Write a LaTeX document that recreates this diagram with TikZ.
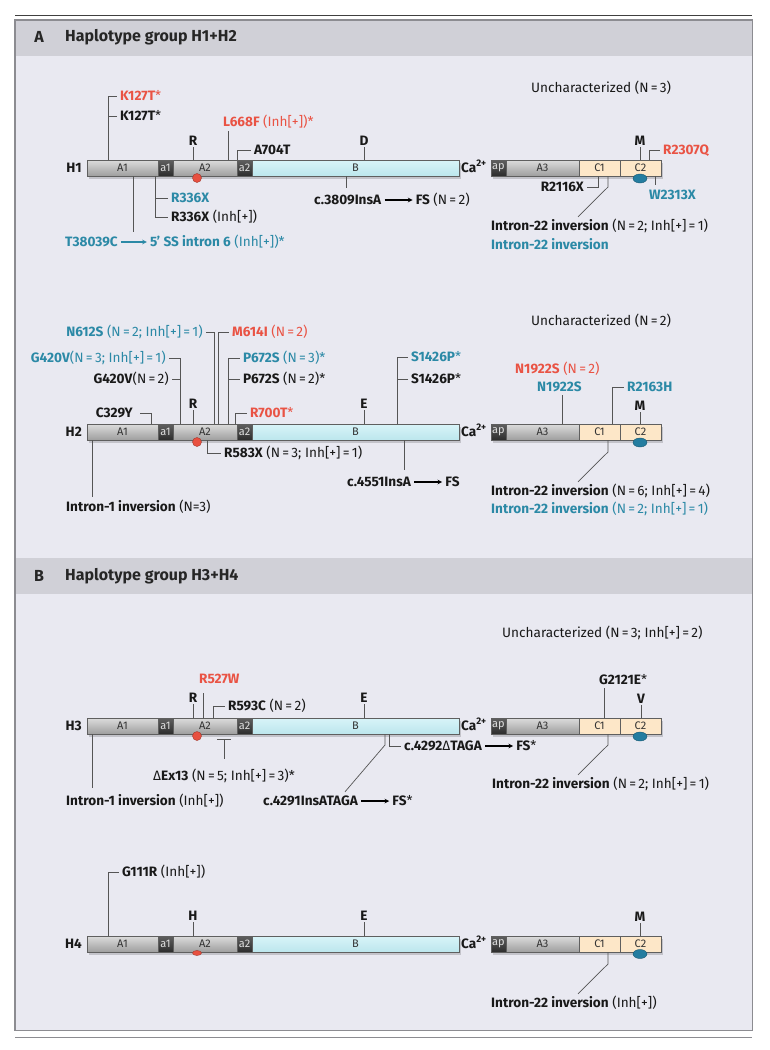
\documentclass[tikz,border=0pt]{standalone}
\usepackage{fontspec}
\setmainfont{Fira Sans}
\usetikzlibrary{positioning, shapes.geometric, arrows, shadows}

\definecolor{mutred}{RGB}{233,83,68}
\definecolor{mutblue}{RGB}{43,137,166}
\definecolor{panelbg}{RGB}{233,233,241}
\definecolor{hdrbg}{RGB}{208,208,215}
\definecolor{framegray}{RGB}{140,140,145}
\definecolor{leadgray}{RGB}{85,85,85}
\definecolor{domline}{RGB}{95,95,95}
\definecolor{graytop}{RGB}{220,220,220}
\definecolor{graybot}{RGB}{158,158,158}
\definecolor{darktop}{RGB}{95,95,95}
\definecolor{darkbot}{RGB}{45,45,45}
\definecolor{btop}{RGB}{216,244,248}
\definecolor{bbot}{RGB}{188,230,237}
\definecolor{cpeach}{RGB}{253,231,200}
\definecolor{dotred}{RGB}{232,80,64}
\definecolor{dotblue}{RGB}{36,125,160}

\newcommand{\Dsym}{{\mdseries Δ}}

\tikzstyle{dom} = [rectangle, draw=domline, line width=0.6pt, minimum height=16pt, inner sep=0pt, outer sep=0pt, font=\fontsize{11}{11}\selectfont, drop shadow={shadow xshift=1.5pt, shadow yshift=-3pt, opacity=0.16, fill=black}]
\tikzstyle{domA} = [dom, top color=graytop, bottom color=graybot, text=black!80]
\tikzstyle{doms} = [dom, top color=darktop, bottom color=darkbot, text=black!12, minimum width=15pt]
\tikzstyle{domB} = [dom, top color=btop, bottom color=bbot, text=black!80, minimum width=207pt]
\tikzstyle{domC} = [dom, fill=cpeach, text=black!80, minimum width=41pt]
\tikzstyle{dotr} = [circle, draw=dotred!70!black, line width=0.4pt, fill=dotred, minimum size=9pt, inner sep=0pt]
\tikzstyle{dotrflat} = [ellipse, draw=dotred!70!black, line width=0.4pt, fill=dotred, minimum width=9pt, minimum height=5pt, inner sep=0pt]
\tikzstyle{dotb} = [ellipse, draw=dotblue!70!black, line width=0.4pt, fill=dotblue, minimum width=14pt, minimum height=9pt, inner sep=0pt]
\tikzstyle{lbl} = [inner xsep=3pt, inner ysep=1pt, text height=9pt, text depth=1pt, font=\fontsize{13.6}{15}\selectfont, text=black!90]
\tikzstyle{redlbl} = [lbl, text=mutred]
\tikzstyle{bluelbl} = [lbl, text=mutblue]
\tikzstyle{site} = [lbl, font=\fontsize{13.6}{15}\selectfont\bfseries]
\tikzstyle{calbl} = [lbl, inner xsep=2pt, anchor=west]
\tikzstyle{lead} = [draw=leadgray, line width=0.7pt]
\tikzstyle{arrow} = [line width=1.1pt,->,>=stealth]
\tikzstyle{bluearrow} = [arrow, draw=mutblue]
\tikzstyle{header} = [rectangle, fill=hdrbg, minimum width=737pt, minimum height=36pt, inner sep=0pt]
\tikzstyle{hdrfont} = [inner sep=0pt, font=\fontsize{16}{18}\selectfont\bfseries, text=black!85]

\begin{document}
\begin{tikzpicture}[x=1pt, y=-1pt]

   \useasboundingbox (0,0) rectangle (769,1050);

   \node (panel) [rectangle, fill=panelbg, minimum width=737pt, minimum height=1010pt, inner sep=0pt, anchor=north west] at (15,20) {};
   \node (hdrA) [header, anchor=north west] at (15,20) {};
   \node (hdrAl) [hdrfont] at (39,37) {A};
   \node (hdrAt) [hdrfont, anchor=west] at (65,37) {Haplotype group H1+H2};
   \node (hdrB) [header, anchor=north west] at (15,558) {};
   \node (hdrBl) [hdrfont] at (39,576) {B};
   \node (hdrBt) [hdrfont, anchor=west] at (65,576) {Haplotype group H3+H4};
   \draw [draw=framegray, line width=1.6pt] (panel.north west) rectangle (panel.south east);
   \draw [draw=black!75, line width=0.8pt] ([yshift=5pt]panel.north west) -- ([yshift=5pt]panel.north east);
   \draw [draw=framegray, line width=1.8pt] ([yshift=-7pt]panel.south west) -- ([yshift=-7pt]panel.south east);

   \node (h1) [site, anchor=east] at (85,168) {H1};
   \node (h1A1) [domA, minimum width=71pt, anchor=west] at (87,168) {A1};
   \node (h1a1) [doms, right=0pt of h1A1] {a1};
   \node (h1A2) [domA, minimum width=64pt, right=0pt of h1a1] {A2};
   \node (h1a2) [doms, right=0pt of h1A2] {a2};
   \node (h1B) [domB, right=0pt of h1a2] {B};
   \node (h1ca) [calbl, right=0pt of h1B] {\textbf{Ca}\textsuperscript{\textbf{2+}}};
   \node (h1ap) [doms, right=32pt of h1B] {ap};
   \node (h1A3) [domA, minimum width=73pt, right=0pt of h1ap] {A3};
   \node (h1C1) [domC, right=0pt of h1A3] {C1};
   \node (h1C2) [domC, right=0pt of h1C1] {C2};
   \node (h1dr) [dotr] at (197,178) {};
   \node (h1db) [dotb] at (640,178.5) {};

   \node (k127r) [redlbl, anchor=west] at (117,96) {\textbf{K127T}*};
   \node (k127k) [lbl, anchor=west] at (117,116) {\textbf{K127T}*};
   \node (l668) [redlbl, anchor=west] at (220,122) {\textbf{L668F} (Inh[+])*};
   \node (h1R) [site] at (193,141) {R};
   \node (a704) [lbl, anchor=west] at (251,150) {\textbf{A704T}};
   \node (h1D) [site] at (364,141) {D};
   \node (r336b) [bluelbl, anchor=west] at (168,198) {\textbf{R336X}};
   \node (r336k) [lbl, anchor=west] at (168,217) {\textbf{R336X} (Inh[+])};
   \node (t380) [bluelbl, anchor=west] at (62,242) {\textbf{T38039C}};
   \node (t380ss) [bluelbl, right=26pt of t380] {\textbf{5' SS intron 6} (Inh[+])*};
   \node (c3809) [lbl, anchor=west] at (311,200) {\textbf{c.3809InsA}};
   \node (c3809fs) [lbl, right=28pt of c3809] {\textbf{FS} (N\,=\,2)};
   \node (unc1) [lbl, anchor=west] at (528,88) {Uncharacterized (N\,=\,3)};
   \node (h1M) [site] at (640,141) {M};
   \node (r2307) [redlbl, anchor=west] at (660,150) {\textbf{R2307Q}};
   \node (w2313) [bluelbl, anchor=west] at (646,195) {\textbf{W2313X}};
   \node (r2116) [lbl, anchor=east] at (587,187) {\textbf{R2116X}};
   \node (h1i22k) [lbl, anchor=west] at (488,226) {\textbf{Intron-22 inversion} (N\,=\,2; Inh[+]\,=\,1)};
   \node (h1i22b) [bluelbl, anchor=west] at (488,245) {\textbf{Intron-22 inversion}};

   \coordinate (k127p) at (108,160);
   \coordinate (l668p) at (228,160);
   \coordinate (r336p) at (155,176);
   \coordinate (t380p) at (133,176);
   \coordinate (c3809p) at (346,176);
   \coordinate (r2307p) at (649,160);
   \coordinate (w2313p) at (655,176);
   \coordinate (r2116p) at (598,176);
   \coordinate (h1i22p) at (608,176);

   \draw [lead] (k127p) |- (k127r.west);
   \draw [lead] (k127k.west) -- (k127k.west -| k127p);
   \draw [lead] (l668p) -- ++(0,-29);
   \draw [lead] (h1R.south) -- (h1R.south |- h1A2.north);
   \draw [lead] (h1a2.north west) |- (a704.west);
   \draw [lead] (h1D.south) -- (h1D.south |- h1B.north);
   \draw [lead] (r336p) |- (r336k.west);
   \draw [lead] (r336b.west) -- (r336b.west -| r336p);
   \draw [lead] (t380p) -- ++(0,56);
   \draw [bluearrow] (t380) -- (t380ss);
   \draw [lead] (c3809p) -- ++(0,12);
   \draw [arrow] (c3809) -- (c3809fs);
   \draw [lead] (h1M.south) -- (h1M.south |- h1C2.north);
   \draw [lead] (r2307p) |- (r2307.west);
   \draw [lead] (w2313p) -- ++(0,9);
   \draw [lead] (r2116p) |- (r2116.east);
   \draw [lead] (h1i22p) -- ++(0,11) -- ([xshift=90pt,yshift=3pt]h1i22k.north west);

   \node (h2) [site, anchor=east] at (85,432) {H2};
   \node (h2A1) [domA, minimum width=71pt, anchor=west] at (87,432) {A1};
   \node (h2a1) [doms, right=0pt of h2A1] {a1};
   \node (h2A2) [domA, minimum width=64pt, right=0pt of h2a1] {A2};
   \node (h2a2) [doms, right=0pt of h2A2] {a2};
   \node (h2B) [domB, right=0pt of h2a2] {B};
   \node (h2ca) [calbl, right=0pt of h2B] {\textbf{Ca}\textsuperscript{\textbf{2+}}};
   \node (h2ap) [doms, right=32pt of h2B] {ap};
   \node (h2A3) [domA, minimum width=73pt, right=0pt of h2ap] {A3};
   \node (h2C1) [domC, right=0pt of h2A3] {C1};
   \node (h2C2) [domC, right=0pt of h2C1] {C2};
   \node (h2dr) [dotr] at (197,442) {};
   \node (h2db) [dotb] at (640,442.5) {};

   \node (n612) [bluelbl, anchor=east] at (206,332) {\textbf{N612S} (N\,=\,2; Inh[+]\,=\,1)};
   \node (m614) [redlbl, anchor=west] at (229,332) {\textbf{M614I} (N\,=\,2)};
   \node (g420b) [bluelbl, anchor=east] at (169,358) {\textbf{G420V}(N\,=\,3; Inh[+]\,=\,1)};
   \node (g420k) [lbl, anchor=east] at (172,379) {\textbf{G420V}(N\,=\,2)};
   \node (p672b) [bluelbl, anchor=west] at (240,358) {\textbf{P672S} (N\,=\,3)*};
   \node (p672k) [lbl, anchor=west] at (240,379) {\textbf{P672S} (N\,=\,2)*};
   \node (c329) [lbl, anchor=east] at (136,413) {\textbf{C329Y}};
   \node (h2R) [site] at (193,404) {R};
   \node (r700) [redlbl, anchor=west] at (247,413) {\textbf{R700T}*};
   \node (h2E) [site] at (364,404) {E};
   \node (r583) [lbl, anchor=west] at (221,453) {\textbf{R583X} (N\,=\,3; Inh[+]\,=\,1)};
   \node (h2i1) [lbl, anchor=west] at (63,507) {\textbf{Intron-1 inversion} (N=3)};
   \node (s1426b) [bluelbl, anchor=west] at (408,357) {\textbf{S1426P}*};
   \node (s1426k) [lbl, anchor=west] at (408,379) {\textbf{S1426P}*};
   \node (c4551) [lbl, anchor=west] at (344,482) {\textbf{c.4551InsA}};
   \node (c4551fs) [lbl, right=28pt of c4551] {\textbf{FS}};
   \node (n1922r) [redlbl, anchor=west] at (512,369) {\textbf{N1922S} (N\,=\,2)};
   \node (n1922b) [bluelbl, anchor=west] at (534,387) {\textbf{N1922S}};
   \node (r2163) [bluelbl, anchor=west] at (624,387) {\textbf{R2163H}};
   \node (h2M) [site] at (640,406) {M};
   \node (unc2) [lbl, anchor=west] at (528,321) {Uncharacterized (N\,=\,2)};
   \node (h2i22k) [lbl, anchor=west] at (488,491) {\textbf{Intron-22 inversion} (N\,=\,6; Inh[+]\,=\,4)};
   \node (h2i22b) [bluelbl, anchor=west] at (488,509) {\textbf{Intron-22 inversion} (N\,=\,2; Inh[+]\,=\,1)};

   \coordinate (n612p) at (214,424);
   \coordinate (m614p) at (218,424);
   \coordinate (g420p) at (180,424);
   \coordinate (p672p) at (228,424);
   \coordinate (c329p) at (151,424);
   \coordinate (r700p) at (235,424);
   \coordinate (r583p) at (207,440);
   \coordinate (h2i1p) at (92,440);
   \coordinate (s1426p) at (397,424);
   \coordinate (c4551p) at (404,440);
   \coordinate (n1922p) at (562,424);
   \coordinate (r2163p) at (612,424);
   \coordinate (h2i22p) at (608,440);

   \draw [lead] (n612p) |- (n612.east);
   \draw [lead] (m614p) |- (m614.west);
   \draw [lead] (g420p) |- (g420b.east);
   \draw [lead] (g420k.east) -- (g420k.east -| g420p);
   \draw [lead] (p672p) |- (p672b.west);
   \draw [lead] (p672k.west) -- (p672k.west -| p672p);
   \draw [lead] (c329p) |- ([xshift=4pt]c329.east);
   \draw [lead] (h2R.south) -- (h2R.south |- h2A2.north);
   \draw [lead] (r700p) |- (r700.west);
   \draw [lead] (h2E.south) -- (h2E.south |- h2B.north);
   \draw [lead] (r583p) |- (r583.west);
   \draw [lead] (h2i1p) -- ++(0,57);
   \draw [lead] (s1426p) |- (s1426b.west);
   \draw [lead] (s1426k.west) -- (s1426k.west -| s1426p);
   \draw [lead] (c4551p) -- ++(0,30);
   \draw [arrow] (c4551) -- (c4551fs);
   \draw [lead] (n1922p) -- ++(0,-29);
   \draw [lead] (r2163p) |- (r2163.west);
   \draw [lead] (h2M.south) -- (h2M.south |- h2C2.north);
   \draw [lead] (h2i22p) -- ++(0,12) -- ([xshift=90pt,yshift=3pt]h2i22k.north west);

   \node (h3) [site, anchor=east] at (85,726) {H3};
   \node (h3A1) [domA, minimum width=71pt, anchor=west] at (87,726) {A1};
   \node (h3a1) [doms, right=0pt of h3A1] {a1};
   \node (h3A2) [domA, minimum width=64pt, right=0pt of h3a1] {A2};
   \node (h3a2) [doms, right=0pt of h3A2] {a2};
   \node (h3B) [domB, right=0pt of h3a2] {B};
   \node (h3ca) [calbl, right=0pt of h3B] {\textbf{Ca}\textsuperscript{\textbf{2+}}};
   \node (h3ap) [doms, right=32pt of h3B] {ap};
   \node (h3A3) [domA, minimum width=73pt, right=0pt of h3ap] {A3};
   \node (h3C1) [domC, right=0pt of h3A3] {C1};
   \node (h3C2) [domC, right=0pt of h3C1] {C2};
   \node (h3dr) [dotr] at (197,736) {};
   \node (h3db) [dotb] at (640,736.5) {};

   \node (r527) [redlbl, anchor=west] at (196,679) {\textbf{R527W}};
   \node (h3R) [site] at (193,698) {R};
   \node (r593) [lbl, anchor=west] at (225,706) {\textbf{R593C} (N\,=\,2)};
   \node (h3E) [site] at (364,698) {E};
   \node (dex13) [lbl, anchor=west] at (150,776) {\Dsym\textbf{Ex13} (N\,=\,5; Inh[+]\,=\,3)*};
   \node (h3i1) [lbl, anchor=west] at (63,801) {\textbf{Intron-1 inversion} (Inh[+])};
   \node (c4291) [lbl, anchor=west] at (260,801) {\textbf{c.4291InsATAGA}};
   \node (c4291fs) [lbl, right=28pt of c4291] {\textbf{FS}*};
   \node (c4292) [lbl, anchor=west] at (401,746) {\textbf{c.4292}\Dsym\textbf{TAGA}};
   \node (c4292fs) [lbl, right=28pt of c4292] {\textbf{FS}*};
   \node (g2121) [lbl, anchor=west] at (596,680) {\textbf{G2121E}*};
   \node (h3V) [site] at (641,699) {V};
   \node (unc3) [lbl, anchor=west] at (499,633) {Uncharacterized (N\,=\,3; Inh[+]\,=\,2)};
   \node (h3i22) [lbl, anchor=west] at (489,784) {\textbf{Intron-22 inversion} (N\,=\,2; Inh[+]\,=\,1)};

   \coordinate (r527p) at (203,718);
   \coordinate (r593p) at (213,718);
   \coordinate (dex13p) at (224,739);
   \coordinate (h3i1p) at (92,734);
   \coordinate (c4291p) at (385,734);
   \coordinate (c4292p) at (389,734);
   \coordinate (g2121p) at (604,718);
   \coordinate (h3i22p) at (608,734);

   \draw [lead] (r527p) -- ++(0,-25);
   \draw [lead] (h3R.south) -- (h3R.south |- h3A2.north);
   \draw [lead] (r593p) |- (r593.west);
   \draw [lead] (h3E.south) -- (h3E.south |- h3B.north);
   \draw [lead] ([xshift=-7pt]dex13p) -- ([xshift=7pt]dex13p) (dex13p) -- ++(0,20);
   \draw [lead] (h3i1p) -- ++(0,54);
   \draw [lead] (c4291p) -- ++(0,11) -- ([xshift=85pt,yshift=3pt]c4291.north west);
   \draw [arrow] (c4291) -- (c4291fs);
   \draw [lead] (c4292p) |- (c4292.west);
   \draw [arrow] (c4292) -- (c4292fs);
   \draw [lead] (g2121p) -- ++(0,-30);
   \draw [lead] (h3V.south) -- (h3V.south |- h3C2.north);
   \draw [lead] (h3i22p) -- ++(0,11) -- ([xshift=89pt,yshift=3pt]h3i22.north west);

   \node (h4) [site, anchor=east] at (85,944) {H4};
   \node (h4A1) [domA, minimum width=71pt, anchor=west] at (87,944) {A1};
   \node (h4a1) [doms, right=0pt of h4A1] {a1};
   \node (h4A2) [domA, minimum width=64pt, right=0pt of h4a1] {A2};
   \node (h4a2) [doms, right=0pt of h4A2] {a2};
   \node (h4B) [domB, right=0pt of h4a2] {B};
   \node (h4ca) [calbl, right=0pt of h4B] {\textbf{Ca}\textsuperscript{\textbf{2+}}};
   \node (h4ap) [doms, right=32pt of h4B] {ap};
   \node (h4A3) [domA, minimum width=73pt, right=0pt of h4ap] {A3};
   \node (h4C1) [domC, right=0pt of h4A3] {C1};
   \node (h4C2) [domC, right=0pt of h4C1] {C2};
   \node (h4dr) [dotrflat] at (197,953) {};
   \node (h4db) [dotb] at (640,954) {};

   \node (g111) [lbl, anchor=west] at (119,872) {\textbf{G111R} (Inh[+])};
   \node (h4H) [site] at (193,916) {H};
   \node (h4E) [site] at (364,916) {E};
   \node (h4M) [site] at (640,917) {M};
   \node (h4i22) [lbl, anchor=west] at (488,1003) {\textbf{Intron-22 inversion} (Inh[+])};

   \coordinate (g111p) at (108,936);
   \coordinate (h4i22p) at (608,952);

   \draw [lead] (g111p) |- (g111.west);
   \draw [lead] (h4H.south) -- (h4H.south |- h4A2.north);
   \draw [lead] (h4E.south) -- (h4E.south |- h4B.north);
   \draw [lead] (h4M.south) -- (h4M.south |- h4C2.north);
   \draw [lead] (h4i22p) -- ++(0,12) -- ([xshift=90pt,yshift=3pt]h4i22.north west);

\end{tikzpicture}
\end{document}
